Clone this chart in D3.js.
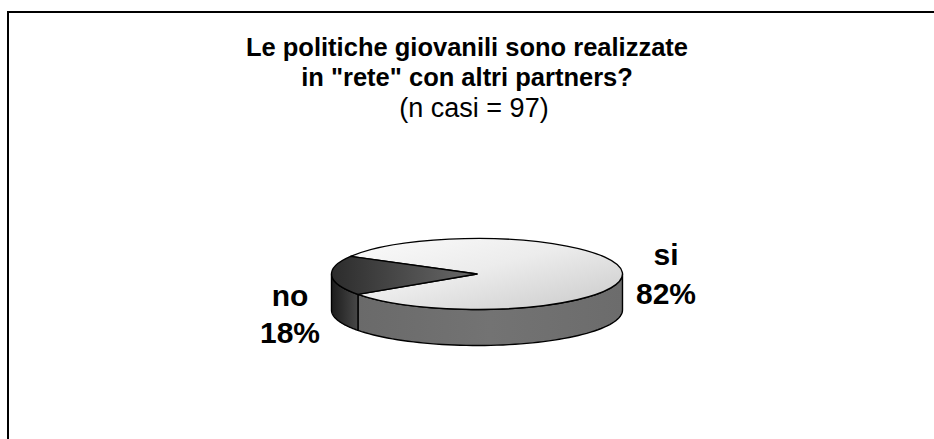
<!DOCTYPE html>
<html>
<head>
<meta charset="utf-8">
<script src="https://cdn.jsdelivr.net/npm/d3@7"></script>
<style>
  html, body { margin: 0; padding: 0; background: #fff; }
  svg { display: block; }
  text { font-family: "Liberation Sans", Arial, sans-serif; fill: #000; }
</style>
</head>
<body>
<svg id="chart" width="934" height="439"></svg>
<script>
// Survey answers (percent of 97 cases)
const categories = ["si", "no"];
const values = [82, 18];
const labels = ["82%", "18%"];
const titleLines = ["Le politiche giovanili sono realizzate", "in \"rete\" con altri partners?"];
const subtitle = "(n casi = 97)";

const W = 934, H = 439;
const svg = d3.select("#chart");

// Outer frame (runs off the right and bottom edges)
svg.append("rect")
  .attr("x", 8).attr("y", 12)
  .attr("width", W + 20).attr("height", H + 20)
  .attr("fill", "none").attr("stroke", "#000").attr("stroke-width", 2);

// Title
const title = svg.append("text").attr("text-anchor", "middle");
titleLines.forEach((t, i) => {
  title.append("tspan").attr("x", 467).attr("y", 56 + i * 30)
    .attr("font-weight", "bold").attr("font-size", 25.5).text(t);
});
title.append("tspan").attr("x", 474).attr("y", 117)
  .attr("font-size", 27).text(subtitle);

// 3D pie geometry
const cx = 477, cy = 274, rx = 145.5, ry = 35.5, depth = 36;
const k = ry / rx;

const pie = d3.pie().sort(null).value(d => d)
  .startAngle(299.7 * Math.PI / 180)
  .endAngle(299.7 * Math.PI / 180 + 2 * Math.PI);
const arcs = pie(values);

const px = a => cx + rx * Math.sin(a);
const py = (a, dz) => cy - ry * Math.cos(a) + dz;

const defs = svg.append("defs");
function linGrad(id, x1, y1, x2, y2, stops) {
  const g = defs.append("linearGradient").attr("id", id)
    .attr("x1", x1).attr("y1", y1).attr("x2", x2).attr("y2", y2);
  stops.forEach(s => g.append("stop").attr("offset", s[0]).attr("stop-color", s[1]));
}
linGrad("topSi", "0%", "0%", "100%", "100%", [[0, "#fbfbfb"], [0.45, "#ececec"], [1, "#c9c9c9"]]);
linGrad("topNo", "0%", "0%", "100%", "0%", [[0, "#2c2c2c"], [1, "#6a6a6a"]]);
linGrad("sideSi", "0%", "0%", "100%", "0%", [[0, "#6a6a6a"], [0.5, "#737373"], [1, "#6c6c6c"]]);
linGrad("sideNo", "0%", "0%", "100%", "0%", [[0, "#1c1c1c"], [1, "#484848"]]);

const topFill = ["url(#topSi)", "url(#topNo)"];
const sideFill = ["url(#sideSi)", "url(#sideNo)"];

// Visible outer wall: the part of each slice facing the viewer (angles π/2..3π/2 mod 2π)
function frontParts(a0, a1) {
  const parts = [];
  for (let m = -1; m <= 2; m++) {
    const f0 = Math.PI / 2 + 2 * Math.PI * m, f1 = 3 * Math.PI / 2 + 2 * Math.PI * m;
    const s = Math.max(a0, f0), e = Math.min(a1, f1);
    if (e > s) parts.push([s, e]);
  }
  return parts;
}

const line = d3.line();
const sides = svg.append("g");
arcs.forEach((d, i) => {
  frontParts(d.startAngle, d.endAngle).forEach(([s, e]) => {
    const n = 60;
    const topPts = d3.range(n + 1).map(j => {
      const a = s + (e - s) * j / n; return [px(a), py(a, 0)];
    });
    const botPts = d3.range(n + 1).map(j => {
      const a = e - (e - s) * j / n; return [px(a), py(a, depth)];
    });
    sides.append("path")
      .attr("d", line(topPts.concat(botPts)) + "Z")
      .attr("fill", sideFill[i])
      .attr("stroke", "#000").attr("stroke-width", 1.4)
      .attr("stroke-linejoin", "round");
  });
});

// Top faces: circular arcs squashed vertically into the tilted ellipse
const arc = d3.arc().innerRadius(0).outerRadius(rx);
svg.append("g")
  .attr("transform", `translate(${cx},${cy}) scale(1,${k})`)
  .selectAll("path").data(arcs).join("path")
  .attr("d", arc)
  .attr("fill", (d, i) => topFill[i])
  .attr("stroke", "#000").attr("stroke-width", 1.4)
  .attr("vector-effect", "non-scaling-stroke")
  .attr("stroke-linejoin", "round");

// Slice labels
const labelPos = [
  { x: 666, y1: 265, y2: 304 },
  { x: 290, y1: 306, y2: 343 }
];
categories.forEach((c, i) => {
  const p = labelPos[i];
  const t = svg.append("text").attr("text-anchor", "middle")
    .attr("font-weight", "bold").attr("font-size", 30);
  t.append("tspan").attr("x", p.x).attr("y", p.y1).text(c);
  t.append("tspan").attr("x", p.x).attr("y", p.y2).text(labels[i]);
});
</script>
</body>
</html>
